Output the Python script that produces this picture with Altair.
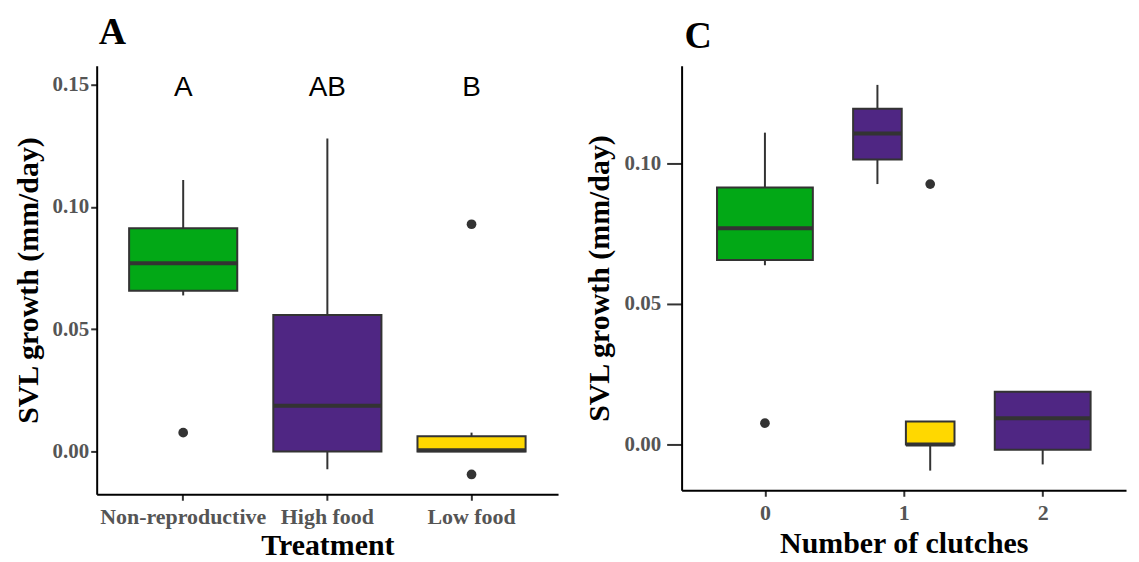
import altair as alt

# ---------------- Panel A : growth by treatment ----------------
treatments = ["Non-reproductive", "High food", "Low food"]
a_lower = [0.0638, -0.0073, 0.0000]
a_q1 = [0.0657, 0.0000, 0.0000]
a_median = [0.0770, 0.0187, 0.0005]
a_q3 = [0.0913, 0.0558, 0.0062]
a_upper = [0.1110, 0.1280, 0.0077]
a_outliers = [[0.0077], [], [0.0929, -0.0094]]
a_letters = ["A", "AB", "B"]
letter_y = 0.15

# ---------------- Panel C : growth by number of clutches ----------------
c_clutches = [0, 1, 1, 2]
c_groups = ["Non-reproductive", "High food", "Low food", "High food"]
c_lower = [0.0638, 0.0927, -0.0093, -0.0071]
c_q1 = [0.0657, 0.1014, 0.0000, -0.0019]
c_median = [0.0770, 0.1107, 0.0000, 0.0093]
c_q3 = [0.0915, 0.1195, 0.0082, 0.0188]
c_upper = [0.1110, 0.1280, 0.0082, 0.0188]
c_outliers = [[0.0076], [], [0.0927], []]

colors = ["#02A816", "#4F2683", "#FFD800"]
edge = "#333333"
serif = "Liberation Serif"

color_scale = alt.Scale(domain=treatments, range=colors)

# ---------- data tables ----------
a_rows = [
    dict(treatment=t, lo=lo, q1=q1, med=m, q3=q3, hi=hi, out=o, letter=l, ly=letter_y)
    for t, lo, q1, m, q3, hi, o, l in zip(
        treatments, a_lower, a_q1, a_median, a_q3, a_upper, a_outliers, a_letters
    )
]
c_rows = [
    dict(clutches=c, treatment=g, gi=treatments.index(g), lo=lo, q1=q1, med=m,
         q3=q3, hi=hi, out=o)
    for c, g, lo, q1, m, q3, hi, o in zip(
        c_clutches, c_groups, c_lower, c_q1, c_median, c_q3, c_upper, c_outliers
    )
]

# ---------- Panel A ----------
xA = alt.X(
    "treatment:N",
    sort=treatments,
    scale=alt.Scale(domain=treatments, paddingInner=0.25, paddingOuter=0.225),
    axis=alt.Axis(title="Treatment", labelAngle=0, labelPadding=6, titlePadding=3,
                  labelFontSize=22),
)
yA_scale = alt.Scale(domain=[-0.0175, 0.1577], nice=False, zero=False)
yA_axis = alt.Axis(title="SVL growth (mm/day)", values=[0, 0.05, 0.10, 0.15],
                   format=".2f", titlePadding=9)

baseA = alt.Chart(alt.Data(values=a_rows))

whiskA = baseA.mark_rule(color=edge, strokeWidth=2).encode(
    x=xA, y=alt.Y("lo:Q", scale=yA_scale, axis=yA_axis), y2="hi:Q"
)
boxA = baseA.mark_bar(stroke=edge, strokeWidth=2).encode(
    x=xA, y="q1:Q", y2="q3:Q",
    fill=alt.Fill("treatment:N", scale=color_scale, legend=None),
)
medA = baseA.mark_bar(stroke=edge, strokeWidth=4, fill=edge).encode(
    x=xA, y="med:Q", y2="med:Q"
)
outA = baseA.transform_flatten(["out"]).mark_circle(
    color=edge, opacity=1, size=95
).encode(x=xA, y="out:Q")
letA = baseA.mark_text(font="Liberation Sans", fontSize=28, color="black",
                       baseline="middle", dy=3).encode(x=xA, y="ly:Q", text="letter:N")

panelA = alt.layer(whiskA, boxA, medA, outA, letA).properties(
    width=463, height=430,
    title=alt.TitleParams("A", anchor="start", frame="group", font=serif,
                          fontSize=38, fontWeight="bold", color="black",
                          offset=14, dx=2),
)

# ---------- Panel C ----------
baseC = (
    alt.Chart(alt.Data(values=c_rows))
    .transform_joinaggregate(n="count()", groupby=["clutches"])
    .transform_window(k="row_number()", groupby=["clutches"],
                      sort=[alt.SortField("gi")])
    .transform_calculate(
        xc="datum.clutches + (datum.k - (datum.n + 1) / 2) * 0.38",
        hw="datum.n == 1 ? 0.345 : 0.175",
    )
    .transform_calculate(x1="datum.xc - datum.hw", x2="datum.xc + datum.hw")
)
xC_scale = alt.Scale(domain=[-0.6, 2.6], nice=False, zero=False)
xC_axis = alt.Axis(title="Number of clutches", values=[0, 1, 2], format="d",
                   labelPadding=6, titlePadding=5, labelFontSize=22)
yC_scale = alt.Scale(domain=[-0.0163, 0.1348], nice=False, zero=False)
yC_axis = alt.Axis(title="SVL growth (mm/day)", values=[0, 0.05, 0.10],
                   format=".2f", titlePadding=10, tickSize=15, labelPadding=6)

whiskC = baseC.mark_rule(color=edge, strokeWidth=2).encode(
    x=alt.X("xc:Q", scale=xC_scale, axis=xC_axis),
    y=alt.Y("lo:Q", scale=yC_scale, axis=yC_axis), y2="hi:Q",
)
boxC = baseC.mark_rect(stroke=edge, strokeWidth=2).encode(
    x="x1:Q", x2="x2:Q", y="q1:Q", y2="q3:Q",
    fill=alt.Fill("treatment:N", scale=color_scale, legend=None),
)
medC = baseC.mark_rule(color=edge, strokeWidth=4).encode(
    x="x1:Q", x2="x2:Q", y="med:Q"
)
outC = baseC.transform_flatten(["out"]).mark_circle(
    color=edge, opacity=1, size=95
).encode(x="xc:Q", y="out:Q")

panelC = alt.layer(whiskC, boxC, medC, outC).properties(
    width=446, height=426,
    title=alt.TitleParams("C", anchor="start", frame="group", font=serif,
                          fontSize=38, fontWeight="bold", color="black",
                          offset=10, dx=3),
)

chart = (
    alt.hconcat(panelA, panelC, spacing=26)
    .configure_view(stroke=None)
    .configure_axis(
        grid=False,
        domainColor="black", domainWidth=2,
        tickColor=edge, tickWidth=2, tickSize=6,
        labelFont=serif, labelFontWeight="bold", labelFontSize=21,
        labelColor="#555555",
        titleFont=serif, titleFontWeight="bold", titleFontSize=30,
        titleColor="black",
    )
)

chart.save("out.html", embed_options={"renderer": "svg", "actions": False})
